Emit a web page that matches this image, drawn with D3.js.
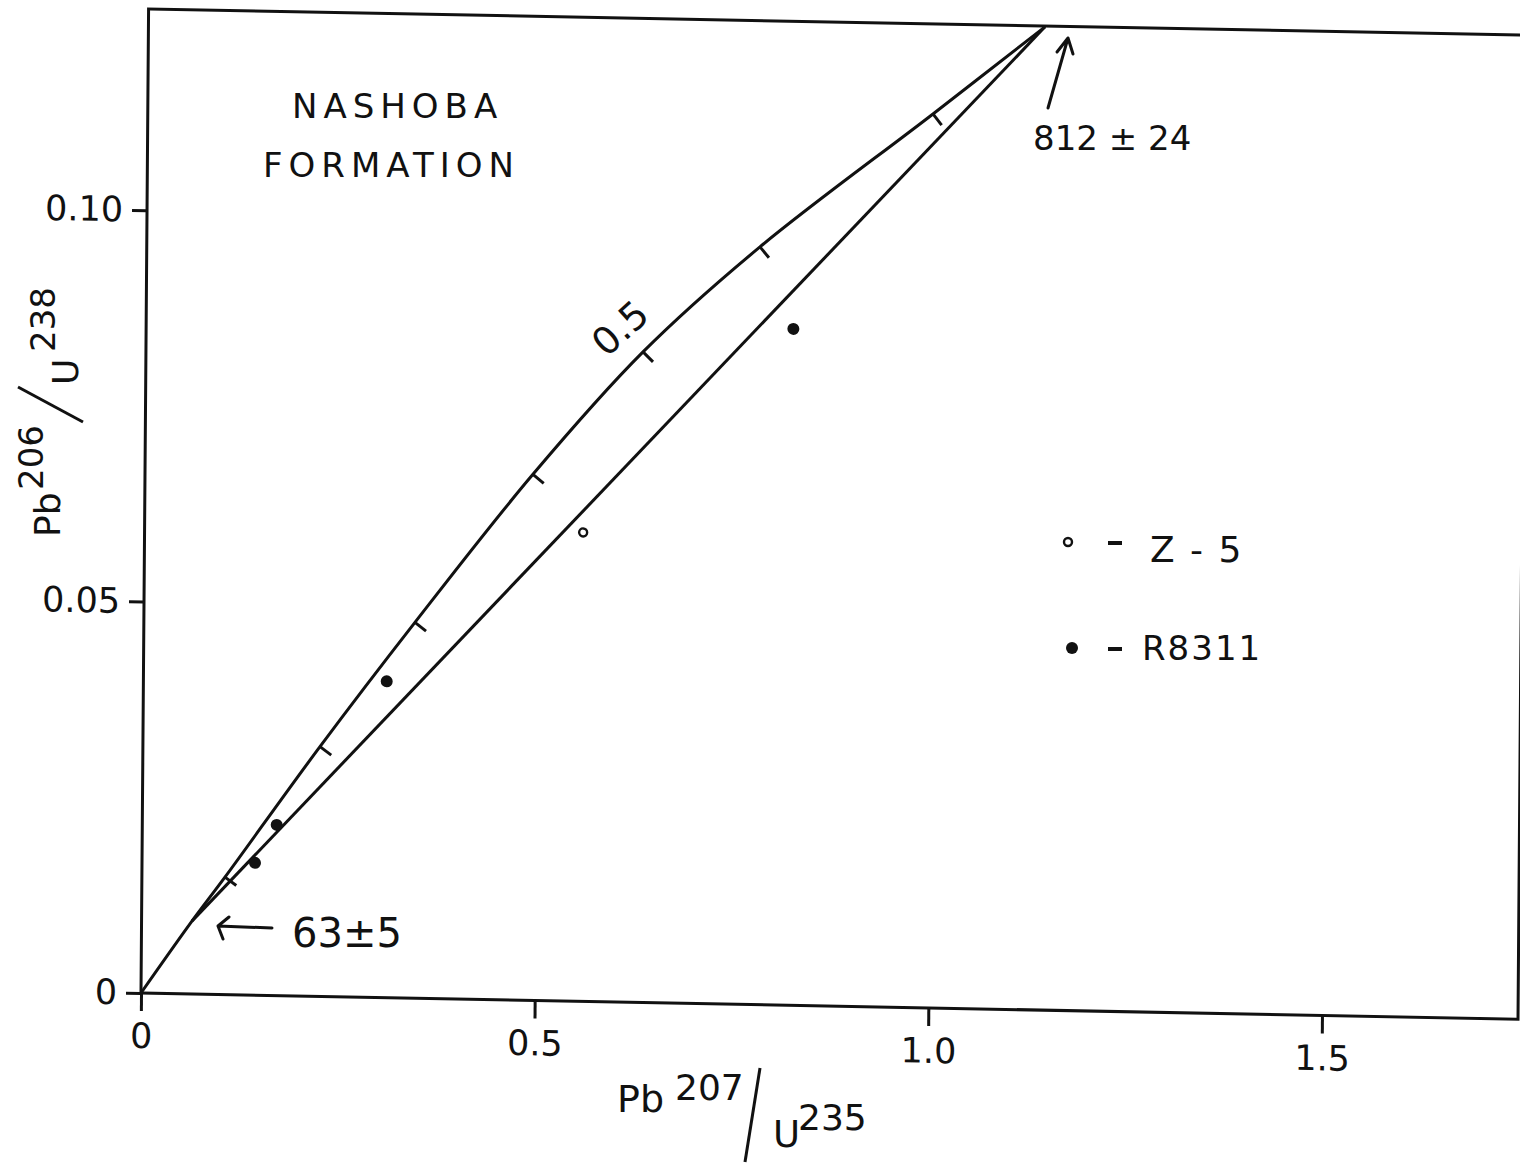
<!DOCTYPE html>
<html>
<head>
<meta charset="utf-8">
<script src="https://cdn.jsdelivr.net/npm/d3@7"></script>
<style>
  body { margin: 0; background: #fff; }
  text { font-family: "DejaVu Sans", sans-serif; fill: #111; }
</style>
</head>
<body>
<svg id="chart" width="1520" height="1164"></svg>
<script>
// axis ranges and ticks
const xMax = 1.749, yMax = 0.1257;
const xTicks = [0, 0.5, 1.0, 1.5];
const yTicks = [0, 0.05, 0.10];

// concordia curve (origin, 63 Ma intercept, age ticks, top edge)
const concX = [0, 0.0640, 0.1055, 0.2249, 0.3443, 0.4927, 0.6313, 0.7788, 0.9972, 1.1386];
const concY = [0, 0.0093, 0.0150, 0.0319, 0.0480, 0.0672, 0.0831, 0.0968, 0.1142, 0.1256];

// age ticks on the concordia (100 Ma steps)
const ageTickX = [0.1055, 0.2249, 0.3443, 0.4927, 0.6313, 0.7788, 0.9972];
const ageTickY = [0.0150, 0.0319, 0.0480, 0.0672, 0.0831, 0.0968, 0.1142];

// discordia chord 63 -> 812 Ma
const discX = [0.0640, 1.1386];
const discY = [0.0093, 0.1256];

// samples
const r8311X = [0.1435, 0.1707, 0.309, 0.822];
const r8311Y = [0.0169, 0.0218, 0.0404, 0.0864];
const z5X = [0.557];
const z5Y = [0.0599];

const ink = "#111";
const svg = d3.select("#chart");

// the scanned frame is slightly skewed, so the plot lives in a skewed group
const g = svg.append("g").attr("transform", "matrix(1,0.019,-0.0077,1,141,993)");

const x = d3.scaleLinear().domain([0, xMax]).range([0, 1377]);
const y = d3.scaleLinear().domain([0, yMax]).range([0, -984]);

// frame
g.append("rect")
  .attr("x", x(0)).attr("y", y(yMax))
  .attr("width", x(xMax) - x(0)).attr("height", y(0) - y(yMax))
  .attr("fill", "none").attr("stroke", ink).attr("stroke-width", 3);

// axes
const xAxis = d3.axisBottom(x)
  .tickValues(xTicks).tickSize(18).tickPadding(12)
  .tickFormat(d => d === 0 ? "0" : d3.format(".1f")(d));
const yAxis = d3.axisLeft(y)
  .tickValues(yTicks).tickSize(15).tickPadding(9)
  .tickFormat(d => d === 0 ? "0" : d3.format(".2f")(d));

[xAxis, yAxis].forEach(ax => {
  const a = g.append("g").call(ax);
  a.select(".domain").remove();
  a.attr("font-family", "DejaVu Sans, sans-serif").attr("font-size", 35);
  a.selectAll("line").attr("stroke", ink).attr("stroke-width", 3);
  a.selectAll("text").attr("fill", ink);
});

// concordia
const conc = concX.map((v, i) => [v, concY[i]]);
g.append("path")
  .datum(conc)
  .attr("d", d3.line().x(d => x(d[0])).y(d => y(d[1])).curve(d3.curveCatmullRom))
  .attr("fill", "none").attr("stroke", ink).attr("stroke-width", 3);

// discordia
g.append("path")
  .datum(discX.map((v, i) => [v, discY[i]]))
  .attr("d", d3.line().x(d => x(d[0])).y(d => y(d[1])))
  .attr("fill", "none").attr("stroke", ink).attr("stroke-width", 3);

// age ticks, pointing down-right off the curve
ageTickX.forEach((v, i) => {
  const k = concX.indexOf(v);
  const p0 = [x(concX[k - 1]), y(concY[k - 1])], p1 = [x(concX[k + 1]), y(concY[k + 1])];
  let tx = p1[0] - p0[0], ty = p1[1] - p0[1];
  const len = Math.hypot(tx, ty);
  tx /= len; ty /= len;
  const nx = -ty, ny = tx; // normal to the right of travel
  const px = x(v), py = y(ageTickY[i]);
  g.append("line")
    .attr("x1", px).attr("y1", py)
    .attr("x2", px + nx * 14).attr("y2", py + ny * 14)
    .attr("stroke", ink).attr("stroke-width", 3);
});

// sample points
g.selectAll(".r8311")
  .data(r8311X.map((v, i) => [v, r8311Y[i]]))
  .enter().append("circle")
  .attr("class", "r8311")
  .attr("cx", d => x(d[0])).attr("cy", d => y(d[1]))
  .attr("r", 6).attr("fill", ink);

g.selectAll(".z5")
  .data(z5X.map((v, i) => [v, z5Y[i]]))
  .enter().append("circle")
  .attr("class", "z5")
  .attr("cx", d => x(d[0])).attr("cy", d => y(d[1]))
  .attr("r", 4).attr("fill", "#fff").attr("stroke", ink).attr("stroke-width", 2.4);

// title block
svg.append("text").attr("x", 292).attr("y", 118)
  .attr("font-size", 34).attr("letter-spacing", 6).text("NASHOBA");
svg.append("text").attr("x", 263).attr("y", 177)
  .attr("font-size", 34).attr("letter-spacing", 6).text("FORMATION");

// 0.5 label along the curve
svg.append("text")
  .attr("transform", "translate(629,338) rotate(-42)")
  .attr("text-anchor", "middle").attr("font-size", 38).text("0.5");

// upper intercept label and arrow
svg.append("text").attr("x", 1033).attr("y", 150).attr("font-size", 34).text("812 ± 24");
svg.append("path")
  .attr("d", "M1048,108 L1068,38 M1057,52 L1068,38 L1073,54")
  .attr("fill", "none").attr("stroke", ink).attr("stroke-width", 3)
  .attr("stroke-linecap", "round").attr("stroke-linejoin", "round");

// lower intercept label and arrow
svg.append("text").attr("x", 292).attr("y", 947).attr("font-size", 40).text("63±5");
svg.append("path")
  .attr("d", "M272,928 L218,926 M229,917 L218,926 L223,939")
  .attr("fill", "none").attr("stroke", ink).attr("stroke-width", 3)
  .attr("stroke-linecap", "round").attr("stroke-linejoin", "round");

// legend
const legend = [
  { label: "Z - 5", cy: 542, open: true, size: 36 },
  { label: "R8311", cy: 648, open: false, size: 34 }
];
legend.forEach(l => {
  svg.append("circle")
    .attr("cx", l.open ? 1068 : 1072).attr("cy", l.cy)
    .attr("r", l.open ? 4 : 6)
    .attr("fill", l.open ? "#fff" : ink)
    .attr("stroke", l.open ? ink : "none").attr("stroke-width", 2.4);
  svg.append("line")
    .attr("x1", 1108).attr("x2", 1122).attr("y1", l.cy + 1).attr("y2", l.cy + 1)
    .attr("stroke", ink).attr("stroke-width", 4);
  svg.append("text")
    .attr("x", l.open ? 1150 : 1142).attr("y", l.open ? 562 : 660)
    .attr("font-size", l.size).attr("letter-spacing", 2).text(l.label);
});

// x axis title: Pb207 / U235
const xt = svg.append("g").attr("transform", "translate(617,1112)");
xt.append("text").attr("x", 0).attr("y", 0).attr("font-size", 38).text("Pb");
xt.append("text").attr("x", 58).attr("y", -12).attr("font-size", 36).text("207");
xt.append("line").attr("x1", 143).attr("y1", -44).attr("x2", 128).attr("y2", 50)
  .attr("stroke", ink).attr("stroke-width", 3);
xt.append("text").attr("x", 156).attr("y", 35).attr("font-size", 37).text("U");
xt.append("text").attr("x", 181).attr("y", 18).attr("font-size", 36).text("235");

// y axis title: Pb206 / U238
const yt = svg.append("g").attr("transform", "translate(60,537) rotate(-90)");
yt.append("text").attr("x", 0).attr("y", 0).attr("font-size", 36).text("Pb");
yt.append("text").attr("x", 47).attr("y", -17).attr("font-size", 34).text("206");
yt.append("line").attr("x1", 150).attr("y1", -42).attr("x2", 115).attr("y2", 23)
  .attr("stroke", ink).attr("stroke-width", 3);
yt.append("text").attr("x", 152).attr("y", 18).attr("font-size", 36).text("U");
yt.append("text").attr("x", 185).attr("y", -5).attr("font-size", 34).text("238");
</script>
</body>
</html>
